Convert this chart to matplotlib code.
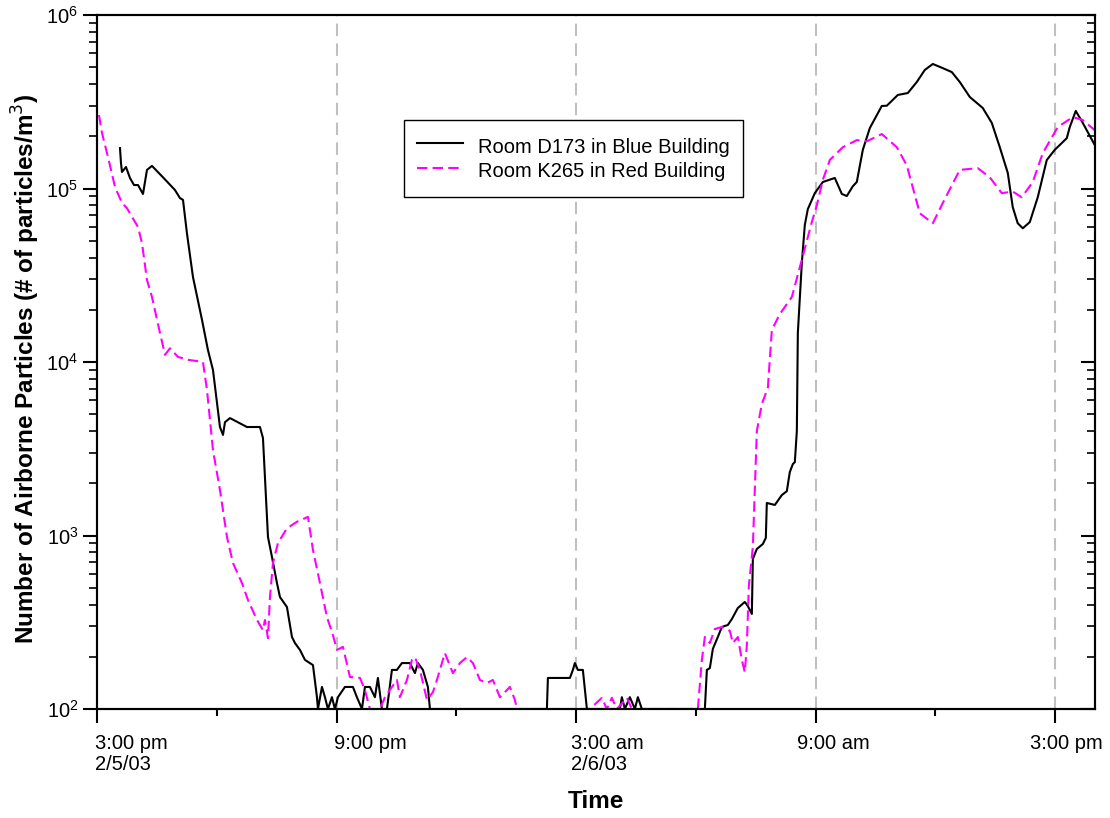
import matplotlib
matplotlib.use("Agg")
import matplotlib.pyplot as plt
import matplotlib.transforms as mtransforms
import numpy as np

plt.rcParams['font.family'] = ['Liberation Sans', 'DejaVu Sans']

# hours after 3:00 pm on 2/5/03
blue_t = [0.576, 0.601, 0.626, 0.726, 0.826, 0.927, 1.027, 1.152, 1.252, 1.377,
          1.653, 1.953, 2.079, 2.154, 2.254, 2.404, 2.630, 2.780, 2.905, 3.080,
          3.156, 3.206, 3.331, 3.757, 4.082, 4.157, 4.283, 4.383, 4.508, 4.583,
          4.758, 4.884, 4.959, 5.084, 5.209, 5.334, 5.410, 5.510, 5.535,
          5.635, 5.710, 5.785, 5.885, 5.960, 6.036, 6.211, 6.411, 6.511, 6.637,
          6.712, 6.837, 6.962, 7.037, 7.137, 7.263, 7.388, 7.513, 7.638, 7.839,
          7.964, 8.039, 8.164, 8.289, 8.340, 8.590, 11.270, 11.295, 11.846, 11.921,
          11.971, 12.046, 12.171, 12.272, 13.098, 13.148, 13.223, 13.348, 13.474,
          13.549, 13.649, 15.227, 15.277, 15.352, 15.427, 15.552, 15.652, 15.803,
          15.903, 16.053, 16.228, 16.304, 16.404, 16.429, 16.529, 16.679, 16.754,
          16.779, 16.980, 17.155, 17.280, 17.355, 17.431, 17.481, 17.531, 17.556,
          17.656, 17.731, 17.806, 17.981, 18.182, 18.482, 18.658, 18.783, 18.933,
          19.033, 19.184, 19.359, 19.659, 19.785, 20.060, 20.311, 20.536, 20.736,
          20.937, 21.187, 21.412, 21.613, 21.863, 22.189, 22.414, 22.615, 22.815,
          22.940, 23.065, 23.191, 23.366, 23.566, 23.792, 23.992, 24.293, 24.368,
          24.518, 24.693, 24.994]
blue_v = [171000, 140000, 124500, 133000, 115000, 104700, 104700, 93000, 128000, 135000,
          116000, 98000, 88000, 86000, 55000, 30900, 17500, 11700, 9000, 4220,
          3800, 4500, 4750, 4220, 4220, 3650, 980, 752, 532, 442,
          387, 260, 240, 219, 192, 184, 179, 117, 100,
          134, 117, 100, 117, 100, 117, 134, 134, 117, 100,
          134, 134, 117, 151, 100, 100, 168, 168, 184, 184,
          161, 184, 168, 134, 100, 100, 100, 151, 151, 168,
          184, 168, 168, 100, 100, 117, 100, 117, 100,
          117, 100, 100, 168, 172, 222, 260, 297, 305,
          330, 382, 414, 392, 353, 732, 836, 893, 968,
          1540, 1500, 1710, 1800, 2320, 2580, 2650, 4000, 14700,
          37200, 61700, 76000, 94000, 109000, 115000, 93000, 90500, 103000,
          109000, 167000, 223000, 299000, 300000, 346000, 355000, 411000, 482000,
          522000, 494000, 469000, 411000, 337000, 291000, 239000, 173000, 123000,
          78000, 63000, 59000, 64000, 89000, 146000, 167000, 195000, 226000,
          280000, 239000, 178000]

red_t = [0.050, 0.125, 0.275, 0.451, 0.626, 0.751, 1.027, 1.127, 1.252, 1.377,
         1.578, 1.703, 1.828, 2.029, 2.279, 2.655, 2.755, 2.905, 3.080, 3.256,
         3.406, 3.631, 3.782, 4.007, 4.157, 4.207, 4.283, 4.333, 4.408, 4.533,
         4.758, 5.009, 5.284, 5.410, 5.585, 5.760, 5.910, 6.011, 6.161, 6.336,
         6.587, 6.711, 6.837, 7.088, 7.213, 7.338, 7.513, 7.588, 7.764, 7.889,
         7.964, 8.089, 8.265, 8.415, 8.515, 8.715, 8.915, 9.091, 9.266, 9.416,
         9.592, 9.767, 9.917, 10.093, 10.343, 10.468, 10.518, 11.019, 12.347, 12.647,
         12.772, 12.897, 13.023, 13.273, 13.398, 13.849, 14.926, 15.052, 15.152, 15.227,
         15.352, 15.477, 15.652, 15.853, 15.928, 16.053, 16.153, 16.228, 16.279, 16.329,
         16.429, 16.529, 16.654, 16.805, 16.905, 17.105, 17.406, 17.681, 17.906, 18.032,
         18.182, 18.357, 18.683, 19.033, 19.284, 19.659, 20.035, 20.285, 20.611, 20.937,
         21.187, 21.613, 22.064, 22.364, 22.665, 22.940, 23.166, 23.441, 23.692, 24.067,
         24.443, 24.693, 24.994]
red_v = [265000, 209000, 152000, 102000, 82500, 77000, 60000, 48500, 29700, 23700,
         14700, 11000, 12000, 10700, 10300, 10000, 6900, 3110, 1830, 980,
         694, 532, 425, 326, 285, 326, 256, 442, 694, 905,
         1100, 1200, 1280, 825, 532, 339, 267, 219, 228, 153,
         151, 129, 100, 100, 117, 129, 147, 117, 147, 192,
         199, 168, 113, 125, 147, 210, 161, 184, 199, 184,
         147, 141, 147, 117, 134, 113, 100, 100, 100, 116,
         100, 116, 100, 116, 100, 100, 100, 100, 192, 260,
         240, 289, 297, 282, 240, 260, 192, 163, 234, 512,
         859, 4000, 5730, 7080, 15300, 18900, 23700, 40800, 64000, 80000,
         112000, 146000, 173000, 190000, 187000, 206000, 173000, 136000, 72000, 63000,
         82500, 128000, 131000, 116000, 94000, 96000, 89000, 109000, 160000, 226000,
         258000, 248000, 217000]

tick_hours = [0, 6, 12, 18, 24]
tick_labels = ["3:00 pm\n2/5/03", "9:00 pm", "3:00 am\n2/6/03", "9:00 am", "3:00 pm"]
label_shift = [-2, -3, -5, -19, -25]  # px, label left edge vs tick

fig = plt.figure(figsize=(11.1, 8.18), dpi=100)
ax = fig.add_axes([97/1110, 1 - 709/818, 998/1110, 694/818])

for h in tick_hours[1:]:
    ax.axvline(h, color='#c0c0c0', lw=1.5, ls=(0, (6, 3.5)), zorder=1)

ax.plot(blue_t, blue_v, color='black', lw=1.5, label='Room D173 in Blue Building', zorder=3)
ax.plot(red_t, red_v, color='#ff00ff', lw=1.5, ls=(0, (5, 2.5)),
        label='Room K265 in Red Building', zorder=3)

ax.set_yscale('log')
ax.set_ylim(100, 1e6)
ax.set_xlim(0, 25)

ax.set_xticks(tick_hours)
ax.set_xticks([3, 9, 15, 21], minor=True)
ax.set_xticklabels([])
xform = ax.get_xaxis_transform()
for h, lab, dx in zip(tick_hours, tick_labels, label_shift):
    off = mtransforms.ScaledTranslation(dx/100, -0.25, fig.dpi_scale_trans)
    ax.text(h, 0, lab, transform=xform + off, ha='left', va='top',
            fontsize=14.5, linespacing=1.15)

ax.tick_params(axis='x', which='major', direction='out', length=10, width=1.5)
ax.tick_params(axis='x', which='minor', direction='out', length=5, width=1.5)
ax.tick_params(axis='y', which='major', direction='out', length=10, width=1.5,
               labelsize=14.5)
ax.tick_params(axis='y', which='minor', direction='out', length=6, width=1.2)

# inward ticks on the right spine
ax2 = ax.twinx()
ax2.set_yscale('log')
ax2.set_ylim(ax.get_ylim())
ax2.tick_params(axis='y', which='major', direction='in', length=10, width=1.5, labelright=False)
ax2.tick_params(axis='y', which='minor', direction='in', length=6, width=1.2)
for a in (ax, ax2):
    for s in a.spines.values():
        s.set_linewidth(1.5)
        s.set_zorder(4)

ax.set_xlabel('Time', fontsize=17.5, fontweight='bold', labelpad=45)
ax.set_ylabel('Number of Airborne Particles (# of particles/m$^3$)', fontsize=17.5,
              fontweight='bold', labelpad=8)
ax.yaxis.set_label_coords(-0.055, 0.49)

leg = ax.legend(loc='upper left', bbox_to_anchor=(0.3076, 0.8487), fontsize=14.5,
                frameon=True, fancybox=False, edgecolor='black', framealpha=1,
                handlelength=2.3, handletextpad=0.75, labelspacing=-0.05,
                handleheight=1.6, borderpad=0.65, borderaxespad=0)
leg.get_frame().set_linewidth(1.0)

fig.savefig('out.png', dpi=100)
